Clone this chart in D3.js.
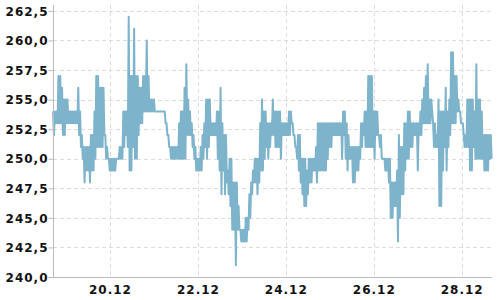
<!DOCTYPE html>
<html>
<head>
<meta charset="utf-8">
<script src="https://cdn.jsdelivr.net/npm/d3@7"></script>
<style>
  html, body { margin: 0; padding: 0; background: #fff; }
  svg { display: block; }
  .tick-label { font-family: "DejaVu Sans", sans-serif; font-weight: bold; font-size: 12px; letter-spacing: 1px; fill: #111; }
</style>
</head>
<body>
<div id="chart"></div>
<script>
// one bar of readings every 59 minutes, first one on 18.12 16:55
const startTime = new Date(2023, 11, 18, 16, 55);
const stepMinutes = 59;

// highest and lowest price inside each step
const stepHigh = [
  254,254,254,257,257,256,255,255,255,254, 254,254,254,254,256,254,252,251,251,251,
  251,252,252,254,257,257,256,256,256,252, 251,250,250,250,250,250,250,251,251,254,
  254,254,
  262,257,257,261,257,257,256,256,257,257, 260,257,255,255,255,254,254,254,254,254,
  254,253,252,251,251,251,251,251,253,254, 254,256,258,255,254,253,252,251,250,250,
  251,252,
  253,255,255,255,253,253,253,254,254,256, 253,252,252,249,250,250,248,248,248,246,
  244,244,244,245,245,247,248,249,250,250, 250,253,255,254,254,253,253,253,255,254,
  254,254,
  254,253,253,253,253,254,254,253,252,251, 252,252,250,250,250,249,250,250,250,250,
  251,253,253,253,253,253,253,253,253,253, 253,253,253,253,253,254,254,253,252,251,
  251,
  251,251,251,251,253,253,254,254,257,257, 257,254,254,254,252,252,250,250,250,250,
  250,248,248,248,249,252,251,251,253,253, 254,254,253,253,253,253,253,254,255,256,
  257,258,
  255,255,253,253,252,255,254,254,254,256, 254,255,259,259,257,257,255,254,253,252,
  252,255,255,255,255,254,258,255,255,254, 252,252,252,252,252
];
const stepLow = [
  252,253,253,253,253,252,252,253,253,253, 253,253,253,253,252,251,250,248,249,249,
  248,249,249,250,251,251,251,251,252,250, 250,249,249,249,249,250,250,250,250,251,
  252,251,
  249,249,251,250,250,252,253,253,254,254, 254,254,254,254,254,254,254,254,254,254,
  253,252,251,250,250,250,250,250,250,250, 250,250,252,252,252,251,250,249,249,249,
  249,250,
  251,250,251,252,252,252,252,250,249,247, 249,247,248,247,246,244,244,241,244,244,
  243,243,243,243,244,245,247,248,248,247, 248,249,249,250,251,250,251,252,252,251,
  251,251,
  250,252,252,252,252,252,253,252,251,250, 249,248,247,246,246,247,248,248,249,249,
  248,249,249,249,249,249,250,251,251,252, 252,252,252,252,250,252,250,249,250,250,
  248,
  248,249,249,250,251,252,251,251,251,251, 251,250,252,252,251,250,250,249,249,248,
  245,245,246,246,243,245,247,247,249,250, 250,251,251,252,252,249,252,252,253,253,
  253,253,
  253,254,251,251,251,246,246,249,251,249, 251,252,253,253,253,254,254,253,253,251,
  251,251,249,249,251,250,250,250,250,250, 249,249,249,250,250
];
const yTicks = [240, 242.5, 245, 247.5, 250, 252.5, 255, 257.5, 260, 262.5];
const xTickDates = [
  new Date(2023, 11, 20), new Date(2023, 11, 22), new Date(2023, 11, 24),
  new Date(2023, 11, 26), new Date(2023, 11, 28)
];

const width = 500, height = 300;
const plotLeft = 53, plotBottom = 277, plotTop = 5, plotRight = 492;

// the line runs high -> low inside every step, which gives the dense band look
const data = [];
stepHigh.forEach((hi, i) => {
  const t0 = d3.timeMinute.offset(startTime, i * stepMinutes);
  data.push({ t: t0, v: hi });
  data.push({ t: d3.timeMinute.offset(t0, stepMinutes / 2), v: stepLow[i] });
});

const x = d3.scaleTime()
  .domain([xTickDates[0], xTickDates[xTickDates.length - 1]])
  .range([110, 461.7]);
const y = d3.scaleLinear().domain([240, 263]).range([plotBottom, plotTop]);

const svg = d3.select("#chart").append("svg")
  .attr("width", width)
  .attr("height", height);

// grid
const grid = svg.append("g")
  .attr("stroke", "#dcdcdc")
  .attr("stroke-dasharray", "4,3")
  .attr("shape-rendering", "crispEdges");
grid.selectAll(".hg").data(yTicks.slice(1)).join("line")
  .attr("x1", plotLeft).attr("x2", plotRight)
  .attr("y1", d => Math.round(y(d)) + 0.5).attr("y2", d => Math.round(y(d)) + 0.5);
grid.selectAll(".vg").data(xTickDates).join("line")
  .attr("x1", d => Math.round(x(d)) + 0.5).attr("x2", d => Math.round(x(d)) + 0.5)
  .attr("y1", plotTop).attr("y2", plotBottom);

// price line
svg.append("path")
  .datum(data)
  .attr("fill", "none")
  .attr("stroke", "#7db3cb")
  .attr("stroke-width", 2)
  .attr("stroke-linejoin", "round")
  .attr("d", d3.line().x(d => x(d.t)).y(d => y(d.v)));

// y axis
const yAxis = svg.append("g")
  .attr("transform", `translate(${plotLeft + 0.5},0)`)
  .call(d3.axisLeft(y).tickValues(yTicks).tickSize(5).tickSizeOuter(0)
    .tickFormat(d => d3.format(".1f")(d).replace(".", ",")));
yAxis.select(".domain").attr("stroke", "#bbb").attr("d", `M0,${plotTop}V${plotBottom}`);
yAxis.selectAll(".tick line").attr("stroke", "#bbb");
yAxis.selectAll(".tick text").attr("class", "tick-label").attr("x", -5).attr("dy", "0.35em");

// x axis
const xAxis = svg.append("g")
  .attr("transform", `translate(0,${plotBottom + 0.5})`)
  .call(d3.axisBottom(x).tickValues(xTickDates).tickSize(0).tickSizeOuter(0)
    .tickFormat(d3.timeFormat("%d.%m")));
xAxis.select(".domain").attr("stroke", "#bbb").attr("d", `M${plotLeft},0H${plotRight}`);
xAxis.selectAll(".tick text").attr("class", "tick-label").attr("y", 8).attr("dy", "0.71em");
</script>
</body>
</html>
